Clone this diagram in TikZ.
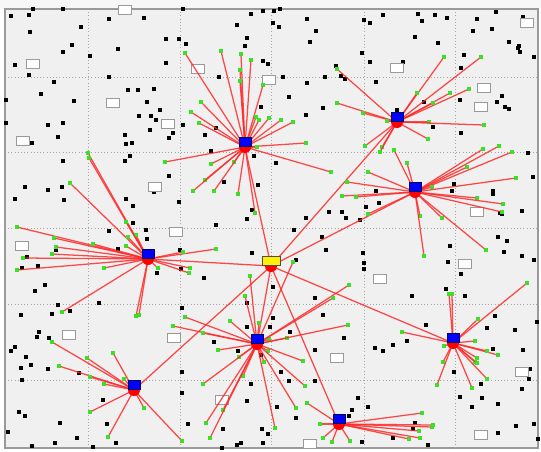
\documentclass[tikz,border=0pt]{standalone}
\usepackage{tikz}

\definecolor{panel}{HTML}{F0F0F0}
\definecolor{rim}{HTML}{9A9A9A}
\definecolor{linkred}{HTML}{FF2A2A}
\definecolor{leafgreen}{HTML}{3CE028}

\tikzset{
  dot/.style={fill=black, inner sep=0pt, minimum size=2.3pt},
  leaf/.style={fill=leafgreen, inner sep=0pt, minimum size=2.3pt},
  link/.style={linkred, line width=0.95pt, opacity=0.85},
  emptybox/.style={draw=rim, fill=white, line width=1pt, inner sep=0pt,
    minimum width=10pt, minimum height=7pt},
  base/.style={circle, fill=red, inner sep=0pt, minimum size=9pt},
  hubbox/.style={draw=blue!40!black, fill=blue, line width=0.4pt, inner sep=0pt,
    minimum width=9pt, minimum height=6.75pt},
  sinkbox/.style={draw=black!70, fill=yellow, line width=0.5pt, inner sep=0pt,
    minimum width=13.5pt, minimum height=6.75pt}
}

% spokes from one hub to its leaves
\newcommand\spokes[2]{
  \foreach \x/\y [count=\i] in {#2} {
    \node[leaf] (#1-\i) at (\x,\y) {};
    \draw[link] (#1) -- (#1-\i);
  }
}

\begin{document}
\begin{tikzpicture}[x=0.75pt, y=-0.75pt]
    \useasboundingbox (0,0) rectangle (541,451);
    \fill[white] (0,0) rectangle (541,451);
    \fill[black!3] (0,0) rectangle (541,9);
    \draw[rim, fill=panel, line width=1pt] (5,9) rectangle (538,448);
    \foreach \gx in {88,180,271,364,455}
        \draw[black!35, dotted] (\gx,9) -- (\gx,448);
    \foreach \gy in {77,152,228,304,380}
        \draw[black!35, dotted] (5,\gy) -- (538,\gy);

    % scattered points
    \foreach \x/\y in {11/16,29/15,33/9,63/9,30/32,81/27,109/19,144/18,183/9,251/14,263/11,237/25,
        166/39,179/39,186/44,247/38,245/46,72/45,63/52,90/56,118/49,166/63,15/65,29/75,263/61,
        268/64,219/77,109/77,54/82,128/90,138/90,154/89,41/94,6/100,74/101,147/102,261/107,160/110,
        139/116,151/116,156/120,6/123,48/125,63/123,183/125,150/130,216/128,173/133,205/135,58/137,
        125/135,169/138,32/143,132/143,126/144,211/151,130/156,125/161,63/161,254/156,169/176,
        224/182,25/187,48/190,62/187,15/199,64/200,126/199,133/206,179/202,258/185,252/210,247/219,
        133/223,154/192,216/225,
        274/11,280/9,273/23,279/27,307/19,316/31,310/42,364/20,370/23,383/15,418/14,435/15,447/18,
        422/21,415/37,438/43,477/19,496/12,473/31,492/29,523/17,509/42,519/46,518/48,520/52,534/57,
        362/53,370/62,403/62,336/66,464/55,461/68,283/77,307/83,325/77,341/76,345/79,376/82,289/97,
        323/108,306/115,397/110,424/102,460/100,502/96,497/102,505/107,509/109,433/127,461/133,
        276/163,528/153,533/177,376/191,454/184,452/191,493/191,493/194,379/203,366/207,522/211,
        329/212,342/212,500/213,502/214,306/218,346/218,360/220,
        109/231,146/230,147/239,118/249,56/250,27/257,22/268,38/266,180/250,157/273,181/269,204/278,
        252/253,45/285,35/291,58/305,99/303,21/315,52/314,70/311,182/308,39/332,37/337,49/338,
        15/347,11/351,26/357,31/365,21/368,48/369,22/380,79/373,182/372,214/342,238/351,247/303,
        247/327,19/412,25/416,60/423,103/400,107/424,77/438,55/443,32/446,8/432,93/447,116/443,
        188/424,182/393,247/401,223/429,237/445,241/443,262/429,222/448,263/443,270/327,261/355,
        251/384,268/434,
        294/230,322/237,326/250,296/260,363/253,364/263,364/269,273/287,315/298,323/315,290/332,
        344/338,315/350,273/318,450/246,448/262,461/274,446/289,465/296,412/296,498/237,507/241,
        504/252,522/256,534/260,426/325,407/341,393/345,383/351,375/348,495/316,487/328,515/330,
        537/322,493/349,523/350,454/372,530/369,529/379,481/384,522/389,460/397,482/398,498/404,
        472/407,516/426,534/424,498/433,538/439,281/372,289/381,315/381,358/398,368/407,352/410,
        349/416,277/407,296/418,415/423,413/429,393/438,428/445,362/442}
        \node[dot] at (\x,\y) {};

    % empty boxes
    \foreach \x/\y [count=\i] in {125/10,33/64,198/69,113/103,168/124,23/141,155/187,269/80,
        397/68,527/23,484/88,481/107,477/212,176/232,22/246,69/335,174/338,222/400,465/264,
        380/279,337/358,522/372,481/435,310/444}
        \node[emptybox] (e\i) at (\x,\y) {};

    % hubs (centre of the red base)
    \coordinate (h1) at (245,147);
    \coordinate (h2) at (397,122);
    \coordinate (h3) at (415,192);
    \coordinate (h4) at (148,259);
    \coordinate (sink) at (271,266);
    \coordinate (h6) at (257,344);
    \coordinate (h7) at (134,390);
    \coordinate (h8) at (453,343);
    \coordinate (h9) at (339,424);

    \foreach \h in {h1,h2,h3,h4,h6,h7,h8,h9}
        \draw[link] (sink) -- (\h);

    \spokes{h1}{185/53,221/51,241/54,251/60,240/70,240/81,263/85,201/102,191/112,199/123,
        256/117,259/120,269/118,281/120,293/122,306/143,257/147,331/172,165/162,211/164,234/162,
        205/180,193/191,214/191,238/194,255/213}
    \spokes{h2}{337/69,444/57,481/57,417/93,450/93,469/89,433/103,337/103,363/113,387/121,
        429/122,484/125,428/139,365/146,382/147,380/152}
    \spokes{h3}{394/150,407/163,483/149,499/146,512/152,467/167,368/172,347/182,516/178,
        432/187,342/196,356/197,477/198,503/204,502/212,420/216,442/218,368/214,424/256,486/250}
    \spokes{h4}{88/153,89/158,70/183,17/227,54/238,93/244,56/247,52/254,23/258,17/270,104/268,
        126/246,128/237,136/235,126/222,216/249,183/252,158/268,190/268,189/273,136/316,139/315,
        62/312}
    \spokes{h6}{250/276,293/262,245/296,230/321,185/317,173/326,203/333,259/323,269/339,
        287/338,349/285,333/298,348/325,218/350,268/351,239/357,264/362,303/361,243/376,203/384,
        305/386,296/408,223/410,206/423,210/438,275/428}
    \spokes{h7}{52/342,87/358,113/353,59/366,90/377,104/384,124/379,90/412,144/408,108/437,
        182/441}
    \spokes{h8}{449/294,452/294,527/283,478/319,402/332,475/341,498/355,487/351,444/346,
        477/358,475/362,477/363,443/362,487/379,472/388,437/385}
    \spokes{h9}{307/403,422/413,433/425,432/427,419/431,420/438,409/439,320/424,323/438,
        332/442,350/441}

    \foreach \h in {h1,h2,h3,h4,h6,h7,h8,h9} {
        \node[base] (\h b) at (\h) {};
        \node[hubbox] (\h s) at ([shift={(0,-5)}]\h) {};
    }
    \node[base] (sinkb) at (sink) {};
    \node[sinkbox] (sinks) at ([shift={(0,-5)}]sink) {};
  \end{tikzpicture}
\end{document}
